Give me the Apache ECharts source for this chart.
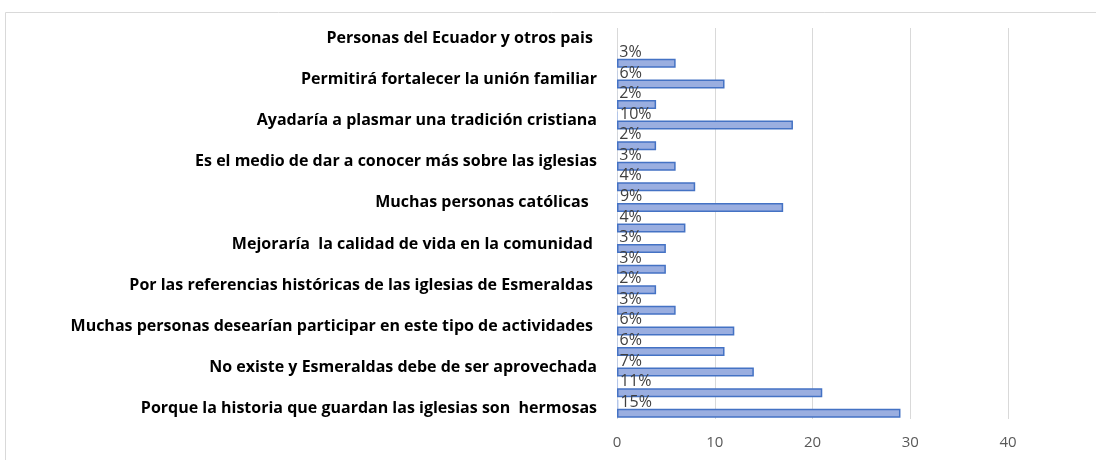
<!DOCTYPE html>
<html>
<head>
<meta charset="utf-8">
<script src="https://cdn.jsdelivr.net/npm/echarts@6/dist/echarts.min.js"></script>
<style>
html, body { margin: 0; padding: 0; background: #fff; }
#chart { width: 1096px; height: 460px; }
</style>
</head>
<body>
<div id="chart"></div>
<script>
// categories from bottom to top; only every other row has a label in the original
var categorias = [
    'Porque la historia que guardan las iglesias son  hermosas', '',
    'No existe y Esmeraldas debe de ser aprovechada', '',
    'Muchas personas desearían participar en este tipo de actividades ', '',
    'Por las referencias históricas de las iglesias de Esmeraldas ', '',
    'Mejoraría  la calidad de vida en la comunidad ', '',
    'Muchas personas católicas  ', '',
    'Es el medio de dar a conocer más sobre las iglesias', '',
    'Ayadaría a plasmar una tradición cristiana', '',
    'Permitirá fortalecer la unión familiar', '',
    'Personas del Ecuador y otros pais '
];
// frecuencia (count) and porcentaje (share), bottom to top
var frecuencia = [29, 21, 14, 11, 12, 6, 4, 5, 5, 7, 17, 8, 6, 4, 18, 4, 11, 6, null];
var porcentaje = [0.15, 0.11, 0.07, 0.06, 0.06, 0.03, 0.02, 0.03, 0.03, 0.04, 0.09, 0.04, 0.03, 0.02, 0.10, 0.02, 0.06, 0.03, null];
var ejeX = [0, 10, 20, 30, 40];

var myChart = echarts.init(document.getElementById('chart'));

var option = {
    backgroundColor: '#ffffff',
    animation: false,
    graphic: [{
        type: 'rect',
        shape: { x: 5.5, y: 12.5, width: 1200, height: 600 },
        style: { fill: 'none', stroke: '#d9d9d9', lineWidth: 1 },
        silent: true
    }],
    grid: { left: 617, right: 88, top: 28, bottom: 41 },
    xAxis: {
        type: 'value',
        min: ejeX[0],
        max: ejeX[ejeX.length - 1],
        interval: 10,
        axisLine: { show: false },
        axisTick: { show: false },
        axisLabel: {
            color: '#595959',
            fontSize: 15,
            fontFamily: 'Open Sans, sans-serif',
            margin: 16
        },
        splitLine: { lineStyle: { color: '#d9d9d9', width: 1 } }
    },
    yAxis: {
        type: 'category',
        data: categorias,
        axisLine: { show: false },
        axisTick: { show: false },
        axisLabel: {
            interval: 0,
            color: '#000000',
            fontSize: 16,
            fontWeight: 'bold',
            fontFamily: 'Open Sans, sans-serif',
            margin: 20
        }
    },
    series: [
        {
            name: 'Porcentaje',
            type: 'bar',
            data: porcentaje,
            barWidth: 9,
            barGap: '0%',
            itemStyle: { color: '#b4c6ea', borderColor: '#b4c6ea', borderWidth: 0 },
            label: {
                show: true,
                position: 'right',
                distance: 2,
                offset: [0, -2],
                color: '#404040',
                fontSize: 16,
                fontFamily: 'Open Sans, sans-serif',
                formatter: function (p) {
                    return Math.round(p.value * 100) + '%';
                }
            }
        },
        {
            name: 'Frecuencia',
            type: 'bar',
            data: frecuencia,
            barWidth: 9,
            itemStyle: { color: '#9aaee0', borderColor: '#4472c4', borderWidth: 1.5 }
        }
    ]
};
myChart.setOption(option);
</script>
</body>
</html>
